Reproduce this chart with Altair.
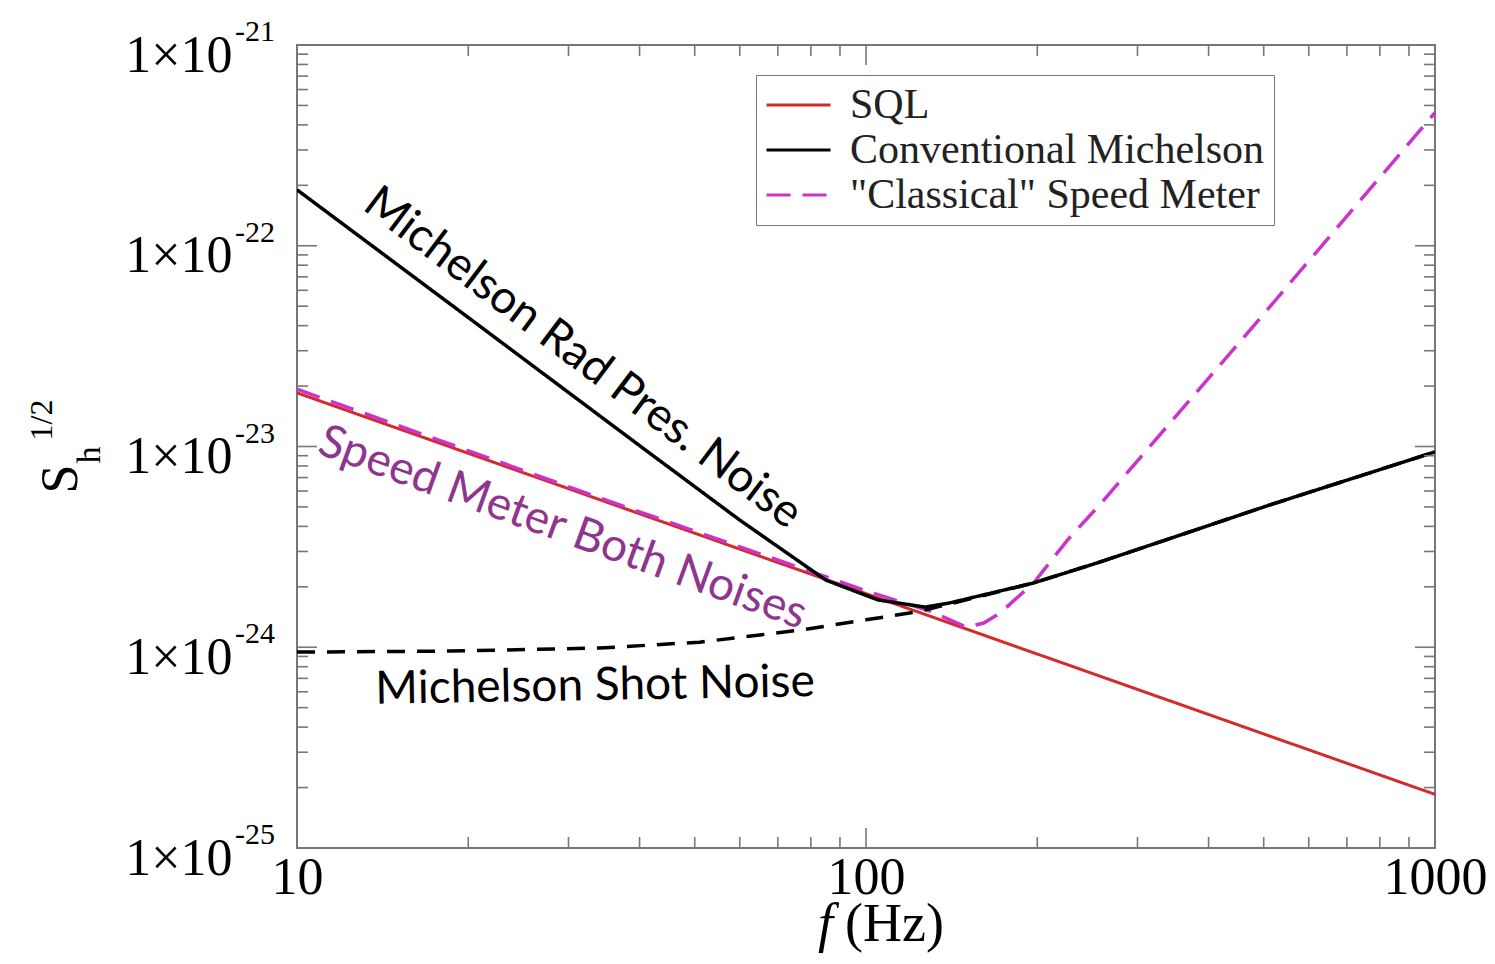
import altair as alt
import pandas as pd

# ---------------- data ----------------
freq_sql = [10, 100, 1000]
sql = [1.85e-23, 1.85e-24, 1.85e-25]

freq_mich = [10, 20, 40, 60, 85, 105, 127, 140, 197, 258, 513, 1000]
mich = [1.90e-22, 4.39e-23, 1.01e-23, 4.3e-24, 2.16e-24, 1.72e-24, 1.585e-24,
        1.66e-24, 2.09e-24, 2.66e-24, 5.12e-24, 9.4e-24]

freq_shot = [10, 18.6, 34, 51, 77, 100, 123, 140, 197, 258, 513, 1000]
shot = [9.46e-25, 9.57e-25, 9.91e-25, 1.06e-24, 1.22e-24, 1.37e-24, 1.50e-24,
        1.64e-24, 2.09e-24, 2.66e-24, 5.12e-24, 9.4e-24]

freq_sm = [10, 34, 100, 130, 150, 161, 172, 197, 226, 258, 473, 1000]
speed = [1.93e-23, 5.55e-24, 1.91e-24, 1.51e-24, 1.26e-24, 1.32e-24, 1.48e-24,
         2.09e-24, 3.42e-24, 5.16e-24, 3.80e-23, 4.6e-22]

series_names = ["SQL", "Conventional Michelson", "\"Classical\" Speed Meter"]
series_colors = ["#d42a2a", "#000000", "#cc33cc"]
series_dash = [[1, 0], [1, 0], [24, 12]]

x_major = [10, 100, 1000]
x_minor = [20, 30, 40, 50, 60, 70, 80, 90, 200, 300, 400, 500, 600, 700, 800, 900]
y_major = [1e-25, 1e-24, 1e-23, 1e-22, 1e-21]
y_exps = ["-25", "-24", "-23", "-22", "-21"]
y_minor = [m * d for d in [1e-25, 1e-24, 1e-23, 1e-22] for m in [2, 3, 4, 5, 6, 7, 8, 9]]

ann_text = ["Michelson Rad Pres. Noise", "Speed Meter Both Noises", "Michelson Shot Noise"]
ann_f = [31.8, 29.3, 33.4]
ann_S = [2.76e-23, 3.93e-24, 6.41e-25]

# ---------------- tables ----------------
df_lines = pd.concat([
    pd.DataFrame({"f": freq_sql, "S": sql, "series": series_names[0]}),
    pd.DataFrame({"f": freq_mich, "S": mich, "series": series_names[1]}),
    pd.DataFrame({"f": freq_sm, "S": speed, "series": series_names[2]}),
])
df_shot = pd.DataFrame({"f": freq_shot, "S": shot})

W, H = 1138, 803
SERIF = "Liberation Serif"
SANS = "Lato"
GRAY = "#777777"

xscale = alt.Scale(type="log", domain=[10, 1000], nice=False)
yscale = alt.Scale(type="log", domain=[1e-25, 1e-21], nice=False)

x_axis = alt.Axis(values=x_major, format="d", labelFont=SERIF, labelFontSize=52,
                  labelColor="black", labelPadding=4, labelFlush=False,
                  labelOverlap=False, ticks=False, tickSize=0, domain=False,
                  grid=False, title=None)
y_axis = alt.Axis(values=y_major, labelExpr="'1×10'", labelFont=SERIF,
                  labelFontSize=52, labelColor="black", labelPadding=65,
                  labelOffset=10, labelFlush=False, labelOverlap=False,
                  labelBaseline="middle", labelAlign="right",
                  ticks=False, tickSize=0, domain=False, grid=False, title=None)

X = alt.X("f:Q", scale=xscale, axis=x_axis, title=None)
Y = alt.Y("S:Q", scale=yscale, axis=y_axis, title=None)

leg = alt.Legend(title=None, orient="none", legendX=459, legendY=30,
                 direction="vertical", symbolType="stroke", symbolSize=4096,
                 symbolStrokeWidth=3, labelFont=SERIF, labelFontSize=42,
                 labelColor="#222222", labelOffset=18, rowPadding=3, padding=9,
                 clipHeight=42, strokeColor=GRAY, fillColor="white", labelLimit=0)

color = alt.Color("series:N", scale=alt.Scale(domain=series_names, range=series_colors), legend=leg)
dash = alt.StrokeDash("series:N", scale=alt.Scale(domain=series_names, range=series_dash), legend=leg)


def series_layer(name, width):
    return alt.Chart(df_lines).transform_filter(
        alt.datum.series == name
    ).mark_line(strokeWidth=width, clip=True).encode(x=X, y=Y, color=color, strokeDash=dash)


sql_layer = series_layer(series_names[0], 3)
sm_layer = series_layer(series_names[2], 3.5)
mich_layer = series_layer(series_names[1], 3.5)
shot_layer = alt.Chart(df_shot).mark_line(color="black", strokeWidth=3.5,
                                          strokeDash=[18, 12]).encode(x=X, y=Y)

ann_layers = []
ann_style = [(37, "black"), (20, "#8e368e"), (359, "black")]
for i, (ang, col) in enumerate(ann_style):
    d = pd.DataFrame({"f": [ann_f[i]], "S": [ann_S[i]], "t": [ann_text[i]]})
    ann_layers.append(
        alt.Chart(d).mark_text(font=SANS, fontSize=46, angle=ang, color=col,
                               align="center", baseline="middle").encode(x=X, y=Y, text="t:N")
    )

# ticks (pointing inward, on all four sides)
dfx_maj = pd.DataFrame({"f": x_major})
dfx_min = pd.DataFrame({"f": x_minor})
dfy_maj = pd.DataFrame({"S": y_major})
dfy_min = pd.DataFrame({"S": y_minor})
tick_layers = []
for dfx, ln in [(dfx_maj, 20), (dfx_min, 11)]:
    tick_layers.append(alt.Chart(dfx).mark_rule(color=GRAY, strokeWidth=1.6).encode(
        x=X, y=alt.value(H), y2=alt.value(H - ln)))
    tick_layers.append(alt.Chart(dfx).mark_rule(color=GRAY, strokeWidth=1.6).encode(
        x=X, y=alt.value(0), y2=alt.value(ln)))
for dfy, ln in [(dfy_maj, 20), (dfy_min, 11)]:
    tick_layers.append(alt.Chart(dfy).mark_rule(color=GRAY, strokeWidth=1.6).encode(
        y=Y, x=alt.value(0), x2=alt.value(ln)))
    tick_layers.append(alt.Chart(dfy).mark_rule(color=GRAY, strokeWidth=1.6).encode(
        y=Y, x=alt.value(W), x2=alt.value(W - ln)))

# exponents of the y tick labels
exp_layer = alt.Chart(pd.DataFrame({"S": y_major, "e": y_exps})).mark_text(
    font=SERIF, fontSize=30, align="left", baseline="alphabetic", dy=-4, color="black"
).encode(y=Y, x=alt.value(-62), text="e:N")

# axis titles
def txt(t, x, y, size, angle=0, style="normal", align="center", baseline="alphabetic"):
    return alt.Chart(pd.DataFrame({"t": [t]})).mark_text(
        font=SERIF, fontSize=size, angle=angle, fontStyle=style, align=align,
        baseline=baseline, color="black"
    ).encode(x=alt.value(x), y=alt.value(y), text="t:N")

title_layers = [
    txt("S", -220, 434, 52, angle=270),
    txt("h", -197, 410, 34, angle=270),
    txt("1/2", -245, 375, 32, angle=270),
    txt("f", 521, 896, 54, style="italic", align="left"),
    txt("(Hz)", 548, 896, 54, align="left"),
]

chart = alt.layer(
    sql_layer, sm_layer, mich_layer, shot_layer,
    *tick_layers, *ann_layers, exp_layer, *title_layers
).properties(
    width=W, height=H,
    padding={"left": 289, "top": 37, "right": 52, "bottom": 108},
    autosize=alt.AutoSizeParams(type="none"),
    background="white",
).configure_view(stroke=GRAY, strokeWidth=2)

chart.save("out.html", embed_options={"renderer": "svg", "actions": False})
